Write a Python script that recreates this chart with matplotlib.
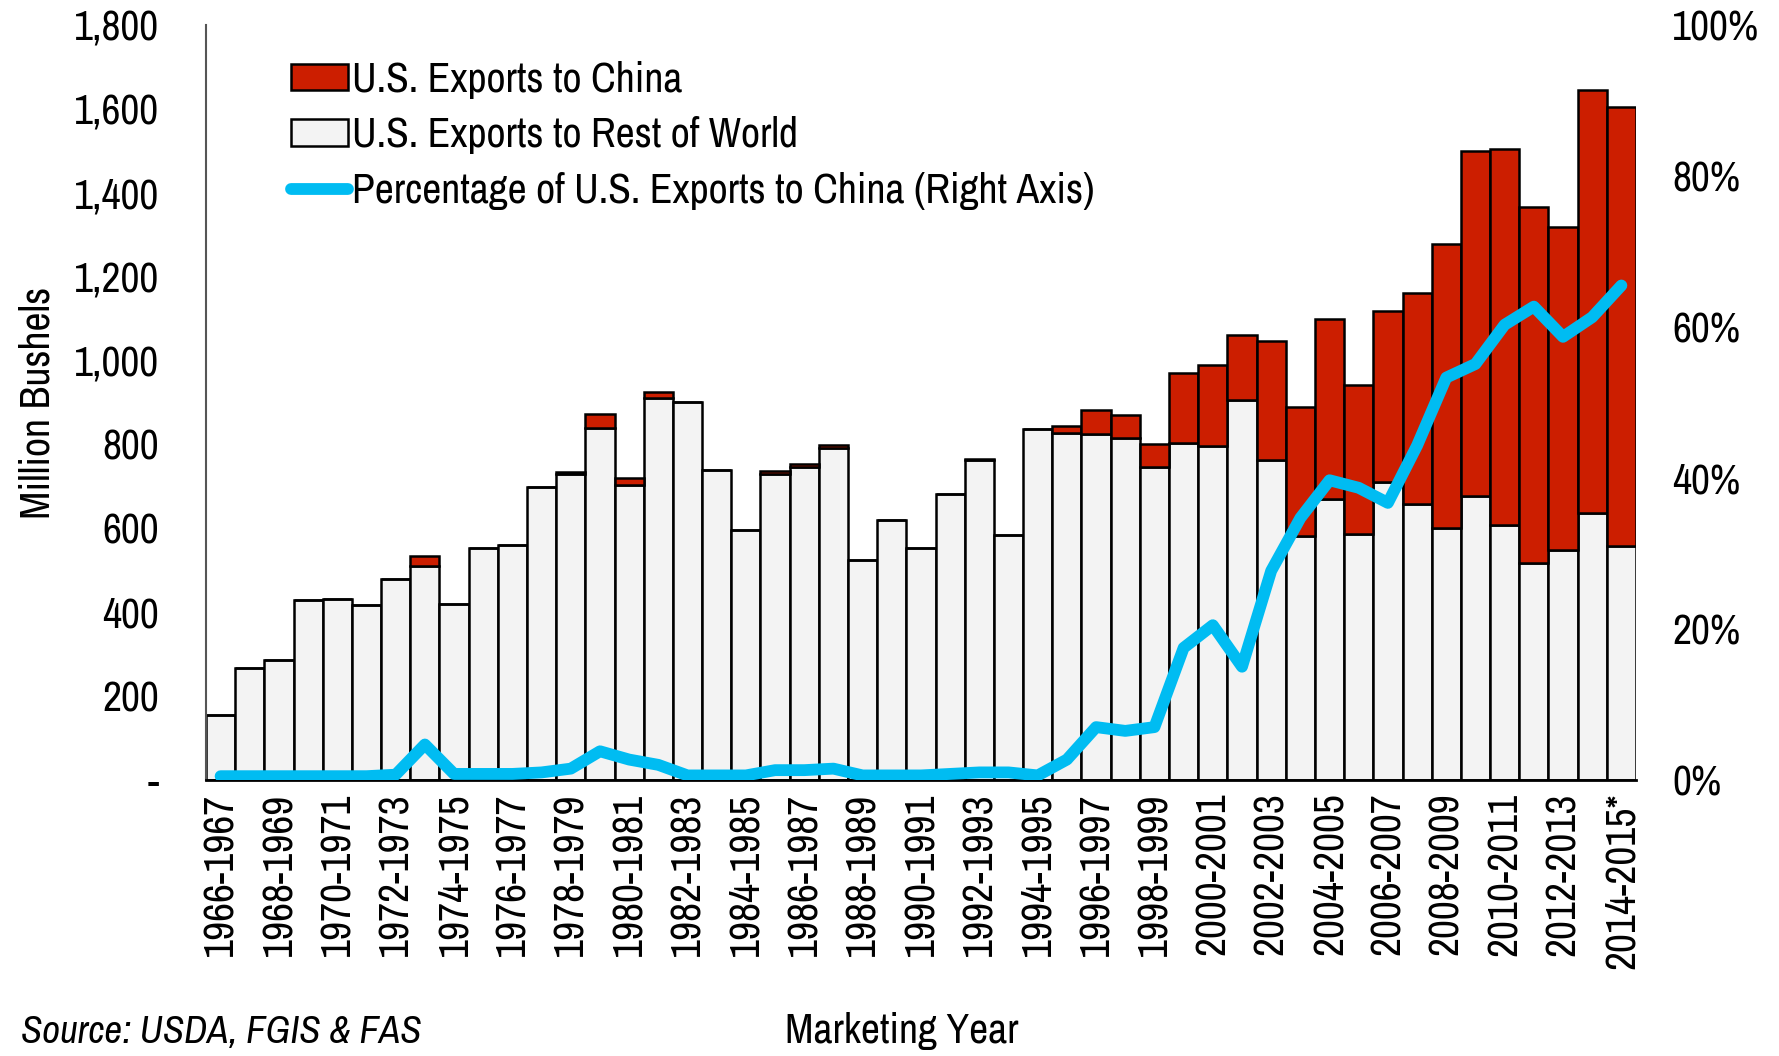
import numpy as np
import matplotlib
matplotlib.use('Agg')
import matplotlib.pyplot as plt
from matplotlib import font_manager
from matplotlib.ticker import FuncFormatter

# the original uses a narrow sans; take one if the machine has it
narrow = sorted({f.name for f in font_manager.fontManager.ttflist if 'Narrow' in f.name})
if narrow:
    plt.rcParams['font.family'] = [narrow[0], 'DejaVu Sans']
    fs = 30
else:
    plt.rcParams['font.family'] = ['Liberation Sans', 'DejaVu Sans']
    fs = 26

# marketing years 1966-1967 ... 2014-2015*
years = ['%d-%d' % (y, y + 1) for y in range(1966, 2015)]
years[-1] = years[-1] + '*'

# total exports, million bushels
total = [156, 266, 286, 430, 432, 416, 478, 535, 419, 552,
         560, 698, 734, 872, 720, 924, 902, 739, 596, 736,
         754, 799, 524, 619, 554, 682, 766, 584, 836, 845,
         883, 870, 802, 970, 990, 1062, 1046, 889, 1098, 942,
         1117, 1160, 1278, 1499, 1505, 1367, 1318, 1646, 1604]

# exports to China, million bushels
china = [0, 0, 0, 0, 0, 0, 0, 24, 0, 0,
         0, 0, 4, 32, 16, 14, 0, 0, 0, 6,
         8, 7, 0, 0, 0, 0, 4, 0, 0, 17,
         59, 54, 56, 166, 194, 156, 284, 307, 427, 356,
         407, 502, 677, 821, 898, 850, 770, 1009, 1046]

# percentage of exports going to China (right axis)
pct = [0.5, 0.5, 0.5, 0.5, 0.5, 0.5, 0.7, 4.7, 0.8, 0.8,
       0.8, 1.0, 1.5, 3.8, 2.7, 2.0, 0.6, 0.6, 0.6, 1.3,
       1.3, 1.5, 0.6, 0.6, 0.6, 0.8, 1.0, 1.0, 0.6, 2.7,
       7.0, 6.5, 7.0, 17.5, 20.5, 15.0, 27.7, 34.7, 39.7, 38.7,
       36.7, 44.3, 53.3, 55.1, 60.3, 62.7, 58.7, 61.3, 65.5]

rest = [t - c for t, c in zip(total, china)]
x = np.arange(len(years))

fig = plt.figure(figsize=(17.79, 10.56), dpi=100)
ax = fig.add_axes([0.1158, 0.2614, 0.8038, 0.7149])

ax.bar(x, rest, width=1.0, color='#F3F3F3', edgecolor='black', linewidth=1.8,
       label='U.S. Exports to Rest of World', zorder=2)
ax.bar(x, china, width=1.0, bottom=rest, color='#CC1E00', edgecolor='black',
       linewidth=1.8, label='U.S. Exports to China', zorder=2)

ax.set_xlim(-0.5, len(years) - 0.5)
ax.set_ylim(0, 1800)
ax.set_yticks(range(0, 1801, 200))
ax.yaxis.set_major_formatter(FuncFormatter(lambda v, p: '-' if v == 0 else '{:,.0f}'.format(v)))
ax.set_xticks(x[::2])
ax.set_xticklabels(years[::2], rotation=90)
ax.tick_params(axis='y', length=0, pad=34, labelsize=fs)
ax.tick_params(axis='x', length=0, pad=9, labelsize=fs)
for s in ['top', 'right']:
    ax.spines[s].set_visible(False)
ax.spines['left'].set_color('#555555')
ax.spines['left'].set_linewidth(1.5)
ax.spines['bottom'].set_linewidth(2)
ax.set_ylabel('Million Bushels', fontsize=fs, labelpad=12)

ax2 = ax.twinx()
ln, = ax2.plot(x, pct, color='#00BCF2', linewidth=8.5, solid_capstyle='round',
               solid_joinstyle='round', label='Percentage of U.S. Exports to China (Right Axis)',
               zorder=3)
ax2.set_ylim(0, 100)
ax2.set_yticks(range(0, 101, 20))
ax2.yaxis.set_major_formatter(FuncFormatter(lambda v, p: '%d%%' % v))
ax2.tick_params(axis='y', length=0, pad=26, labelsize=fs)
for s in ax2.spines.values():
    s.set_visible(False)

h, l = ax.get_legend_handles_labels()
leg = ax2.legend([h[1], h[0], ln], [l[1], l[0], ln.get_label()], loc='upper left',
                 bbox_to_anchor=(0.048, 0.975), frameon=False, fontsize=fs,
                 handlelength=1.35, handleheight=0.6, handletextpad=0.1,
                 labelspacing=0.42, borderaxespad=0)

fig.text(0.507, 0.006, 'Marketing Year', fontsize=fs, ha='center', va='bottom')
fig.text(0.012, 0.006, 'Source: USDA, FGIS & FAS', fontsize=fs - 2, style='italic',
         ha='left', va='bottom')

fig.savefig('out.png', dpi=100)
